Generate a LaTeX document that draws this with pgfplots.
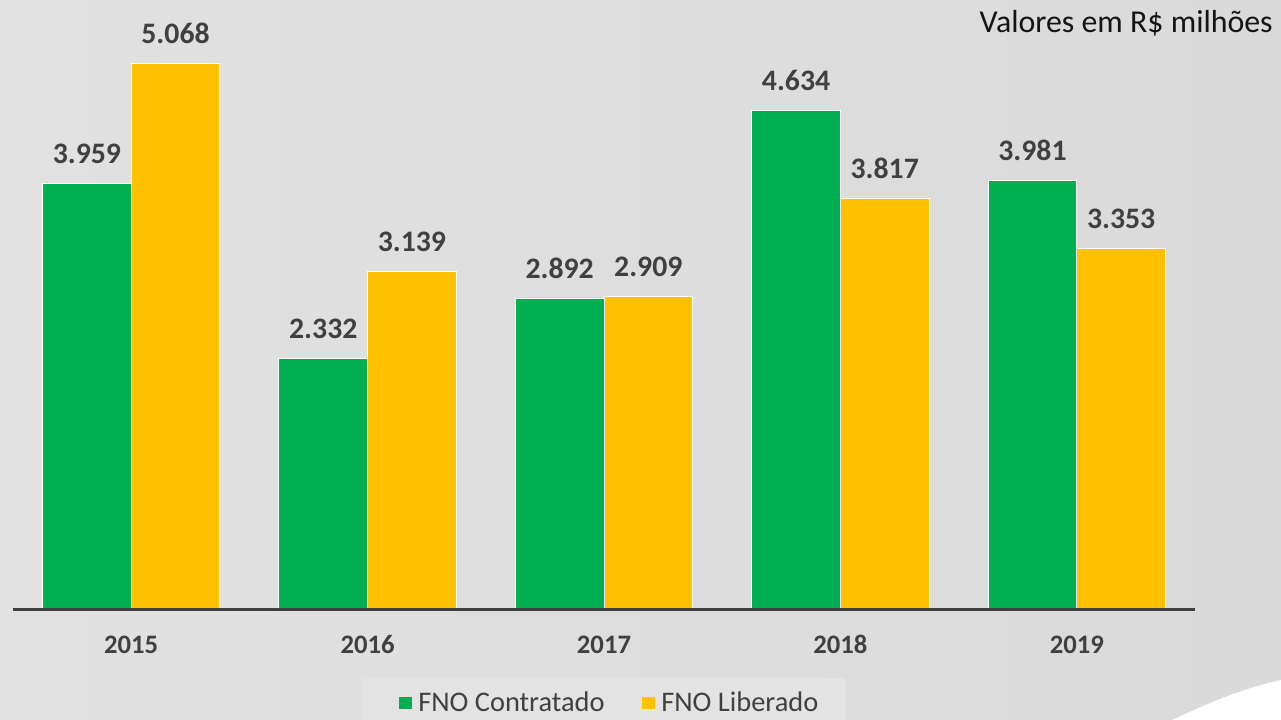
\documentclass[border=0pt]{standalone}
\usepackage{fontspec}
\setmainfont{Carlito}
\usepackage{pgfplots}
\pgfplotsset{compat=1.18}
\definecolor{bgl}{HTML}{E1E1E1}
\definecolor{bgr}{HTML}{DADADA}
\definecolor{grn}{HTML}{00B050}
\definecolor{ylw}{HTML}{FFC000}
\definecolor{txt}{HTML}{404040}
\definecolor{axl}{HTML}{3F3F3F}
\definecolor{lgbg}{HTML}{E3E3E3}
\begin{document}
\begin{tikzpicture}
\begin{scope}[shift={(-9.75pt,457.5pt)}, x=0.75pt, y=-0.75pt]
\shade[left color=bgl, right color=bgr] (0,0) rectangle (1281,720);
\fill[white] (1172,720) .. controls (1215,700) and (1245,688) .. (1281,680) -- (1281,720) -- cycle;
\fill[lgbg] (362,678) rectangle (846,720);
\node[anchor=base east, inner sep=0pt, font=\fontsize{23.9}{28}\selectfont, text=black!92] at (1273,33) {Valores em R\$ milhões};
\end{scope}
\begin{axis}[
  scale only axis, width=886.5pt, height=457.5pt,
  xmin=-0.5, xmax=4.5, ymin=0, ymax=5660,
  enlargelimits=false, clip=false, axis on top,
  ybar=0pt, bar width=0.375,
  axis x line*=bottom, axis y line=none, ytick=\empty,
  x axis line style={-, line width=2.25pt, draw=axl},
  xtick={0,1,2,3,4}, xticklabels={2015,2016,2017,2018,2019},
  major tick length=0pt,
  xticklabel style={anchor=base, yshift=-33pt, font=\fontsize{20}{24}\selectfont\bfseries, text=txt},
  nodes near coords,
  every node near coord/.append style={anchor=base, yshift=15pt, font=\fontsize{22.3}{26}\selectfont\bfseries, text=txt},
  /pgf/number format/.cd, 1000 sep={.}, assume math mode=true, /pgfplots/.cd,
  legend style={at={(0.505,-0.1525)}, anchor=center, draw=none, fill=none,
    legend columns=2, font=\fontsize{21.3}{25}\selectfont, text=txt,
    /tikz/every odd column/.append style={column sep=3pt},
    /tikz/every even column/.append style={column sep=26pt}},
  legend image code/.code={\fill[#1,draw=none] (0pt,-4.8pt) rectangle (9.6pt,4.8pt);},
]
\addplot[fill=grn, draw=white, line width=0.75pt] coordinates {(0,3959) (1,2332) (2,2892) (3,4634) (4,3981)};
\addplot[fill=ylw, draw=white, line width=0.75pt] coordinates {(0,5068) (1,3139) (2,2909) (3,3817) (4,3353)};
\legend{FNO Contratado, FNO Liberado}
\end{axis}
\end{tikzpicture}
\end{document}
